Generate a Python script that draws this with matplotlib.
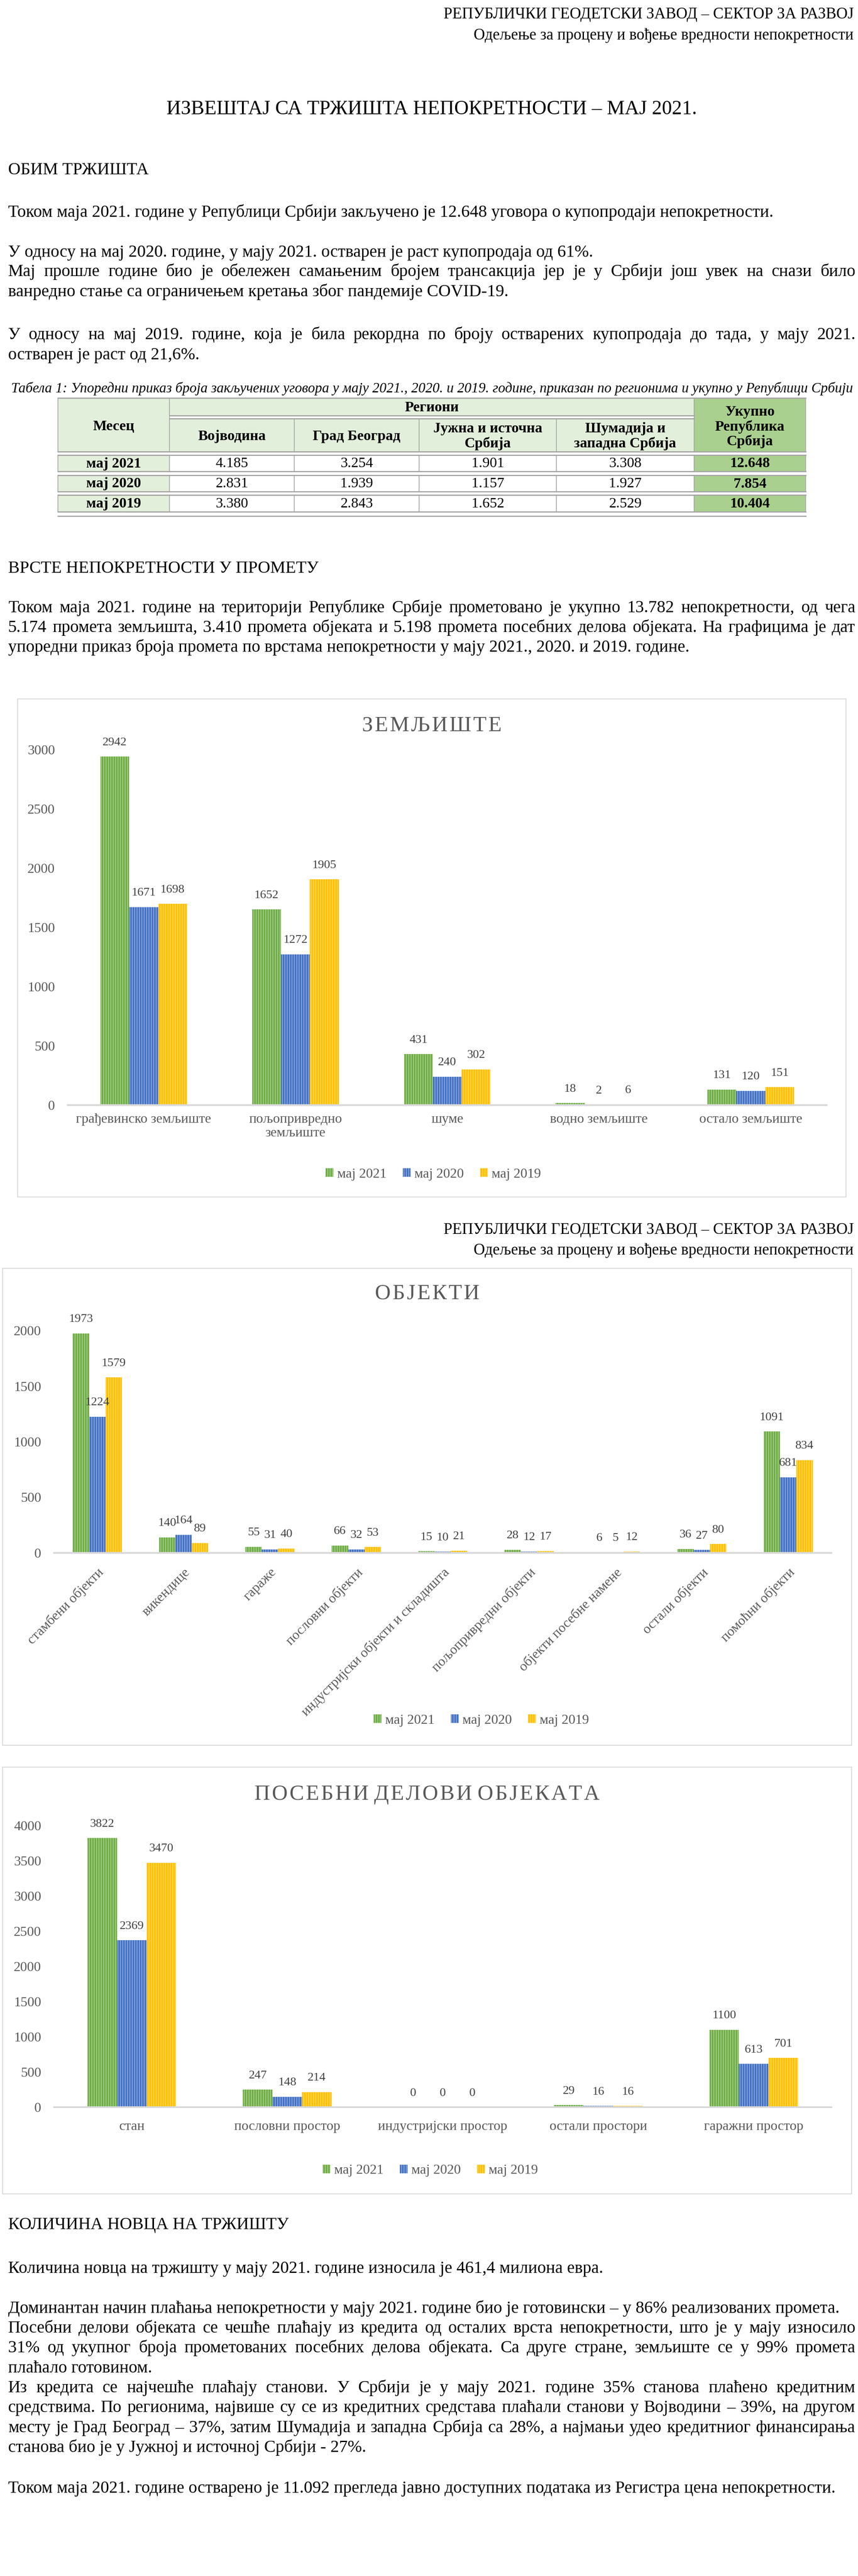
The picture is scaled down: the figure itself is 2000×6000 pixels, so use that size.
import matplotlib
matplotlib.use("Agg")
import matplotlib.pyplot as plt
from matplotlib.patches import Rectangle
import numpy as np

# ---- podaci ----
godine = ['мај 2021', 'мај 2020', 'мај 2019']

regioni = ['Војводина', 'Град Београд', 'Јужна и источна\nСрбија', 'Шумадија и\nзападна Србија']
ugovori_2021 = [4185, 3254, 1901, 3308]
ugovori_2020 = [2831, 1939, 1157, 1927]
ugovori_2019 = [3380, 2843, 1652, 2529]
ukupno = [12648, 7854, 10404]

zemljiste_kat = ['грађевинско земљиште', 'пољопривредно\nземљиште', 'шуме', 'водно земљиште', 'остало земљиште']
zemljiste_2021 = [2942, 1652, 431, 18, 131]
zemljiste_2020 = [1671, 1272, 240, 2, 120]
zemljiste_2019 = [1698, 1905, 302, 6, 151]

objekti_kat = ['стамбени објекти', 'викендице', 'гараже', 'пословни објекти',
               'индустријски објекти и складишта', 'пољопривредни објекти',
               'објекти посебне намене', 'остали објекти', 'помоћни објекти']
objekti_2021 = [1973, 140, 55, 66, 15, 28, 6, 36, 1091]
objekti_2020 = [1224, 164, 31, 32, 10, 12, 5, 27, 681]
objekti_2019 = [1579, 89, 40, 53, 21, 17, 12, 80, 834]

delovi_kat = ['стан', 'пословни простор', 'индустријски простор', 'остали простори', 'гаражни простор']
delovi_2021 = [3822, 247, 0, 29, 1100]
delovi_2020 = [2369, 148, 0, 16, 613]
delovi_2019 = [3470, 214, 0, 16, 701]

# ---- stil ----
plt.rcParams['font.family'] = ['Liberation Serif', 'DejaVu Serif']
plt.rcParams['hatch.linewidth'] = 1.0

W, H = 2000, 6000
BODY = 28.8   # 12pt na ovoj skali
boje = ['#70AD47', '#4472C4', '#FFC000']
svetle = ['#B7DA9F', '#A3BAE6', '#FFE07A']
SIVA = '#595959'

fig = plt.figure(figsize=(20, 60), dpi=100)
bg = fig.add_axes([0, 0, 1, 1])
bg.set_xlim(0, W)
bg.set_ylim(H, 0)
bg.axis('off')
renderer = fig.canvas.get_renderer()


def box(x0, y0, x1, y1):
    return [x0 / W, 1 - y1 / H, (x1 - x0) / W, (y1 - y0) / H]


def sirina(text, size, **kw):
    t = bg.text(0, 0, text, fontsize=size, **kw)
    s = t.get_window_extent(renderer=renderer).width
    t.remove()
    return s


def red(text, y, size=BODY, x=19, ha='left', **kw):
    bg.text(x, y, text, fontsize=size, ha=ha, va='baseline', **kw)


def poravnat(text, y, size=BODY, x0=19, x1=1994, **kw):
    # obostrano poravnat red: reci se rasporede do desne margine
    reci = text.split(' ')
    sirine = [sirina(r, size, **kw) for r in reci]
    razmak = (x1 - x0 - sum(sirine)) / (len(reci) - 1)
    x = x0
    for r, s in zip(reci, sirine):
        bg.text(x, y, r, fontsize=size, ha='left', va='baseline', **kw)
        x += s + razmak


def zaglavlje(y1, y2):
    red('РЕПУБЛИЧКИ ГЕОДЕТСКИ ЗАВОД – СЕКТОР ЗА РАЗВОЈ', y1, size=26.4, x=1990, ha='right')
    red('Одељење за процену и вођење вредности непокретности', y2, size=26.4, x=1990, ha='right')


def format_br(v):
    return f'{v:,}'.replace(',', '.')


# ---- strana 1 ----
zaglavlje(43, 92)
red('ИЗВЕШТАЈ СА ТРЖИШТА НЕПОКРЕТНОСТИ – МАЈ 2021.', 266, size=33.6, x=1006, ha='center')

red('ОБИМ ТРЖИШТА', 406)
red('Током маја 2021. године у Републици Србији закључено је 12.648 уговора о купопродаји непокретности.', 505)
red('У односу на мај 2020. године, у мају 2021. остварен је раст купопродаја од 61%.', 598)
poravnat('Мај прошле године био је обележен самањеним бројем трансакција јер је у Србији још увек на снази било', 643)
red('ванредно стање са ограничењем кретања због пандемије COVID-19.', 690)
poravnat('У односу на мај 2019. године, која је била рекордна по броју остварених купопродаја до тада, у мају 2021.', 790)
red('остварен је раст од 21,6%.', 837)

natpis = 'Табела 1: Упоредни приказ броја закључених уговора у мају 2021., 2020. и 2019. године, приказан по регионима и укупно у Републици Србији'
vel = 21.6 * (1987 - 26) / sirina(natpis, 21.6, style='italic')
red(natpis, 914, size=vel, x=26, style='italic')

# ---- tabela ----
kol = [135, 395, 686, 977, 1297, 1618, 1878]
SVETLO_Z = '#E2EFDA'
TAMNO_Z = '#A9D08E'
LINIJA = '#A6A6A6'
TS = 24.5


def celija(x0, y0, x1, y1, boja):
    bg.add_patch(Rectangle((x0, y0), x1 - x0, y1 - y0, facecolor=boja, edgecolor=LINIJA, lw=1.2))


celija(kol[0], 927, kol[1], 1052, SVETLO_Z)
celija(kol[1], 927, kol[5], 968, SVETLO_Z)
for i in range(4):
    celija(kol[i + 1], 975, kol[i + 2], 1052, SVETLO_Z)
celija(kol[5], 927, kol[6], 1052, TAMNO_Z)
bg.text((kol[0] + kol[1]) / 2, 993, 'Месец', fontsize=TS, fontweight='bold', ha='center', va='center')
bg.text((kol[1] + kol[5]) / 2, 950, 'Региони', fontsize=TS, fontweight='bold', ha='center', va='center')
for i, r in enumerate(regioni):
    bg.text((kol[i + 1] + kol[i + 2]) / 2, 1016, r, fontsize=TS, fontweight='bold',
            ha='center', va='center', linespacing=1.12)
bg.text((kol[5] + kol[6]) / 2, 994, 'Укупно\nРепублика\nСрбија', fontsize=TS, fontweight='bold',
        ha='center', va='center', linespacing=1.12)

redovi = [(1060, 1098), (1107, 1145), (1153, 1192)]
vrednosti = [ugovori_2021, ugovori_2020, ugovori_2019]
for (y0, y1), g, vals, uk in zip(redovi, godine, vrednosti, ukupno):
    celija(kol[0], y0, kol[1], y1, SVETLO_Z)
    for i in range(4):
        celija(kol[i + 1], y0, kol[i + 2], y1, 'white')
    celija(kol[5], y0, kol[6], y1, TAMNO_Z)
    yc = (y0 + y1) / 2 + 1
    bg.text((kol[0] + kol[1]) / 2, yc, g, fontsize=TS, fontweight='bold', ha='center', va='center')
    for i, v in enumerate(vals):
        bg.text((kol[i + 1] + kol[i + 2]) / 2, yc, format_br(v), fontsize=TS, ha='center', va='center')
    bg.text((kol[5] + kol[6]) / 2, yc, format_br(uk), fontsize=TS, fontweight='bold', ha='center', va='center')

# dvostruke linije
bg.plot([kol[1], kol[5]], [968, 968], color=LINIJA, lw=2)
bg.plot([kol[1], kol[5]], [975, 975], color=LINIJA, lw=2)
for ya, yb in [(1052, 1060), (1098, 1107), (1145, 1153), (1192, 1202)]:
    bg.plot([kol[0], kol[6]], [ya, ya], color=LINIJA, lw=2)
    bg.plot([kol[0], kol[6]], [yb, yb], color=LINIJA, lw=2)
bg.plot([kol[0], kol[6]], [927, 927], color=LINIJA, lw=2)

# ---- vrste nepokretnosti ----
red('ВРСТЕ НЕПОКРЕТНОСТИ У ПРОМЕТУ', 1334)
poravnat('Током маја 2021. године на територији Републике Србије прометовано је укупно 13.782 непокретности, од чега', 1426)
poravnat('5.174 промета земљишта, 3.410 промета објеката и 5.198 промета посебних делова објеката. На графицима је дат', 1472)
red('упоредни приказ броја промета по врстама непокретности у мају 2021., 2020. и 2019. године.', 1518)


def grafikon(okvir, plot, naslov, naslov_y, kat, serije, ymax, korak,
             leg_x, leg_y, rot=False, pad_x=14):
    bg.add_patch(Rectangle((okvir[0], okvir[1]), okvir[2] - okvir[0], okvir[3] - okvir[1],
                           fill=False, edgecolor='#D9D9D9', lw=1.5))
    razm = '\u200a'.join(naslov).replace('\u200a \u200a', ' ')
    bg.text((okvir[0] + okvir[2]) / 2, naslov_y, razm, fontsize=36.5, color=SIVA,
            ha='center', va='center')
    ax = fig.add_axes(box(*plot))
    ax.set_facecolor('none')
    x = np.arange(len(kat))
    bw = 0.19
    for i, (ime, vals) in enumerate(zip(godine, serije)):
        xs = x + (i - 1) * bw
        ax.bar(xs, vals, bw, color=boje[i], edgecolor=svetle[i], hatch='|||', lw=0, label=ime)
        for xi, v in zip(xs, vals):
            ax.annotate(str(v), (xi, v), xytext=(0, 33), textcoords='offset pixels',
                        ha='center', va='center', fontsize=20.5, color='#404040',
                        annotation_clip=False)
    ax.set_xlim(-0.5, len(kat) - 0.5)
    ax.set_ylim(0, ymax)
    ax.set_yticks(np.arange(0, ymax + 1, korak))
    ax.set_xticks(x)
    if rot:
        ax.set_xticklabels(kat, rotation=45, ha='right', va='top', rotation_mode='anchor')
    else:
        ax.set_xticklabels(kat, linespacing=1.1)
    ax.tick_params(axis='y', length=0, labelsize=23, labelcolor=SIVA, pad=21.6)
    ax.tick_params(axis='x', length=0, labelsize=23, labelcolor=SIVA, pad=pad_x)
    for s in ['top', 'right', 'left']:
        ax.spines[s].set_visible(False)
    ax.spines['bottom'].set_color('#D9D9D9')
    ax.spines['bottom'].set_linewidth(3)
    ax.legend(loc='center', bbox_to_anchor=(leg_x / W, 1 - leg_y / H), bbox_transform=fig.transFigure,
              ncol=3, frameon=False, fontsize=23, labelcolor=SIVA, handlelength=0.56,
              handleheight=0.56, handletextpad=0.28, columnspacing=1.2)
    return ax


grafikon((41, 1628, 1972, 2788), (158, 1746, 1927, 2574), 'ЗЕМЉИШТЕ', 1690,
         zemljiste_kat, [zemljiste_2021, zemljiste_2020, zemljiste_2019], 3000, 500,
         1010, 2735)

# ---- strana 2 ----
zaglavlje(2874, 2922)
grafikon((6, 2954, 1985, 4065), (126, 3099, 1938, 3617), 'ОБЈЕКТИ', 3013,
         objekti_kat, [objekti_2021, objekti_2020, objekti_2019], 2000, 500,
         1122, 4007, rot=True, pad_x=22)

grafikon((6, 4116, 1985, 5110), (126, 4252, 1938, 4908), 'ПОСЕБНИ ДЕЛОВИ ОБЈЕКАТА', 4180,
         delovi_kat, [delovi_2021, delovi_2020, delovi_2019], 4000, 500,
         1003, 5056, pad_x=22)

red('КОЛИЧИНА НОВЦА НА ТРЖИШТУ', 5192)
red('Количина новца на тржишту у мају 2021. године износила је 461,4 милиона евра.', 5294)
red('Доминантан начин плаћања непокретности у мају 2021. године био је готовински – у 86% реализованих промета.', 5387)
poravnat('Посебни делови објеката се чешће плаћају из кредита од осталих врста непокретности, што је у мају износило', 5433)
poravnat('31% од укупног броја прометованих посебних делова објеката. Са друге стране, земљиште се у 99% промета', 5479)
red('плаћало готовином.', 5526)
poravnat('Из кредита се најчешће плаћају станови. У Србији је у мају 2021. године 35% станова плаћено кредитним', 5572)
poravnat('средствима. По регионима, највише су се из кредитних средстава плаћали станови у Војводини – 39%, на другом', 5618)
poravnat('месту је Град Београд – 37%, затим Шумадија и западна Србија са 28%, а најмањи удео кредитниог финансирања', 5665)
red('станова био је у Јужној и источној Србији - 27%.', 5711)
red('Током маја 2021. године остварено је 11.092 прегледа јавно доступних података из Регистра цена непокретности.', 5806)

fig.savefig('out.png', dpi=100, facecolor='white')
